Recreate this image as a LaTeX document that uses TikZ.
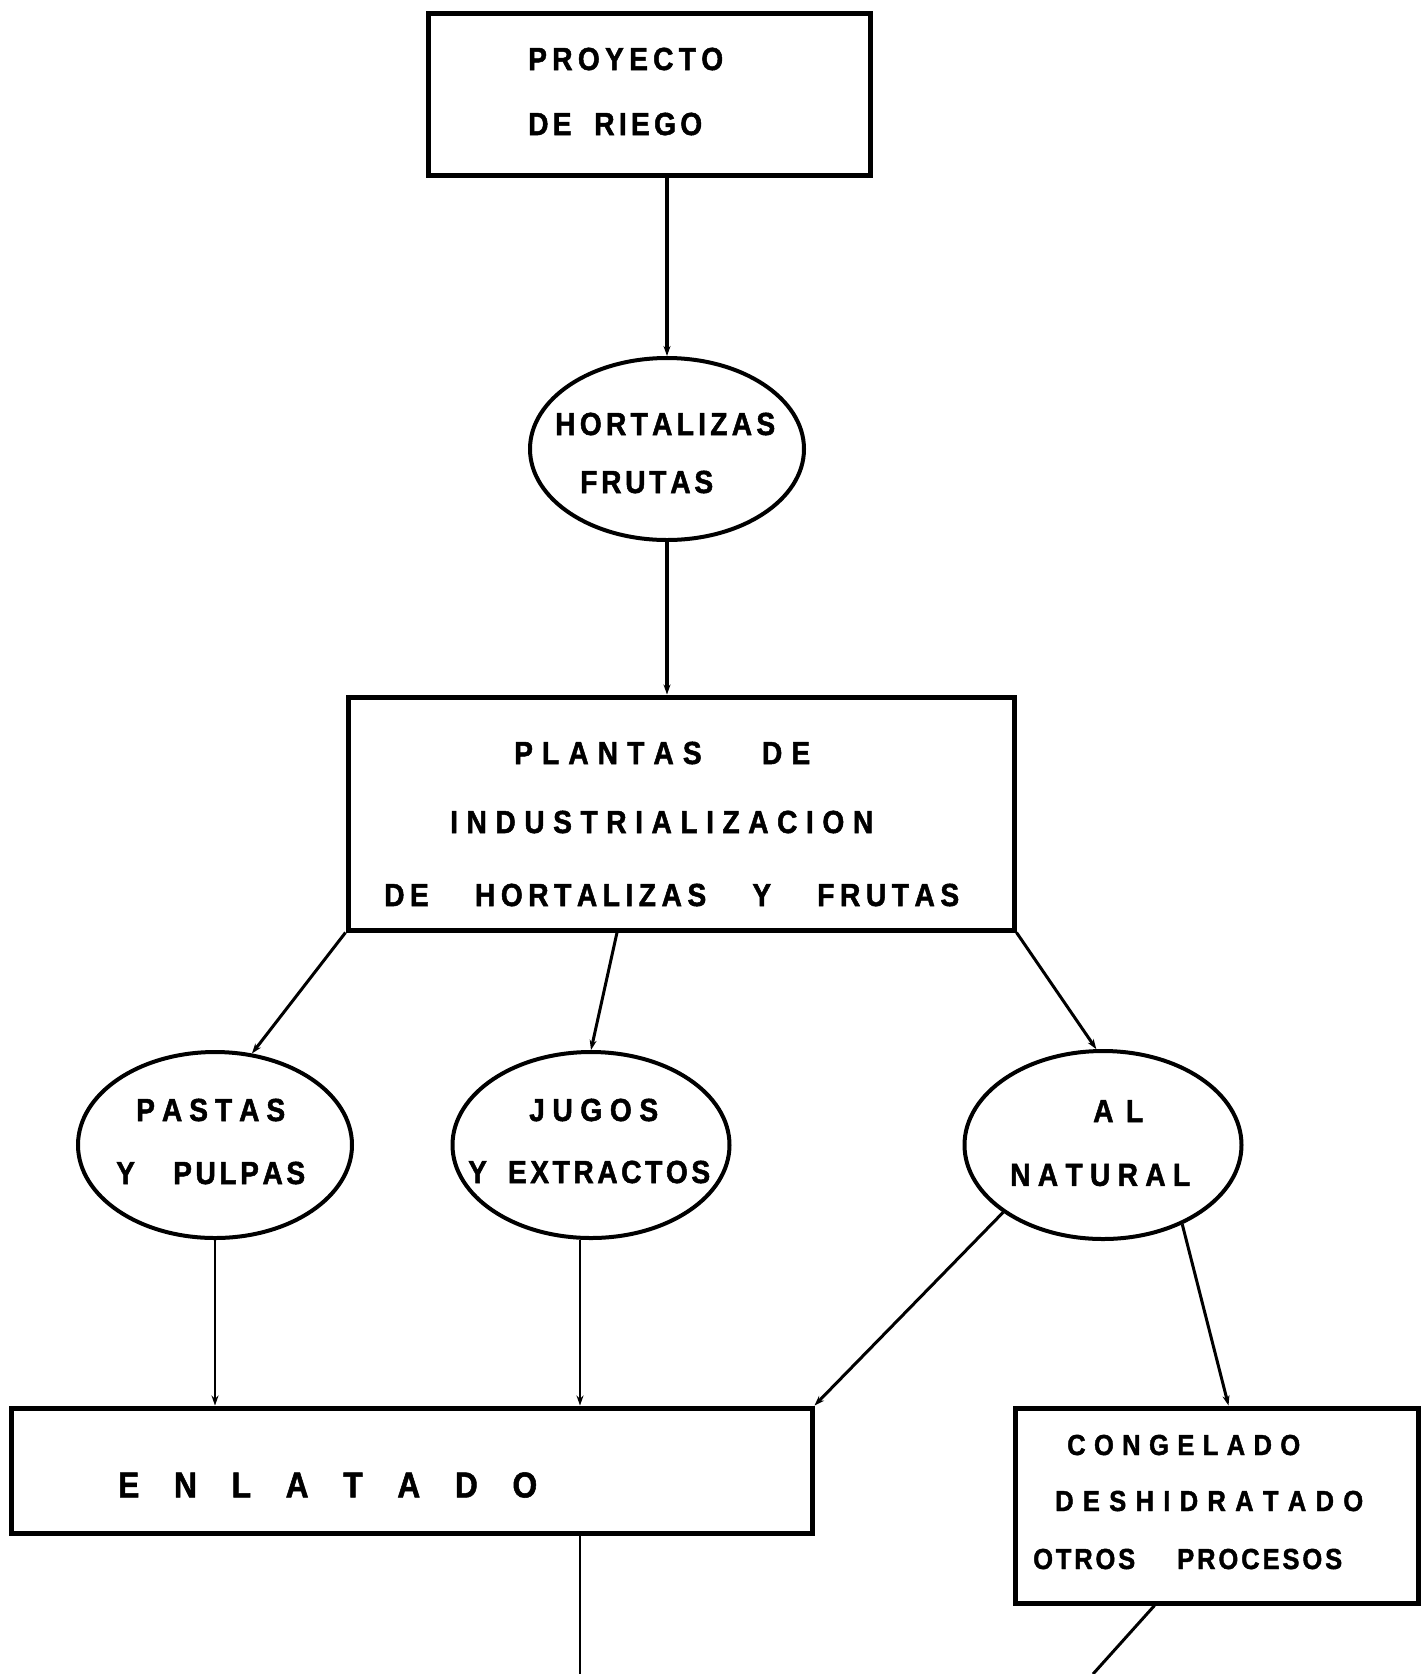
\documentclass[tikz,border=0pt]{standalone}
\usepackage{fontspec}
\usetikzlibrary{arrows.meta,shapes.geometric,calc}
\newfontfamily\lblfont[FakeStretch=0.88,FakeBold=1.5]{Liberation Sans}

% Spread a line of capitals evenly over a given width; "|" adds a word gap.
% (\relax ends each glue so that a following L is not read as "fill".)
\ExplSyntaxOn
\NewDocumentCommand \spreadline { m m }
  {
    \makebox[#1][s]
      {
        \tl_map_inline:nn {#2}
          {
            \str_if_eq:nnTF {##1} {|}
              { \hskip 12pt plus 1.5fil \relax }
              { ##1 \hskip 0pt plus 1fil \relax }
          }
        \unskip
      }
  }
\ExplSyntaxOff

\tikzset{
  box/.style={draw, line width=5pt, rectangle, inner sep=0pt},
  oval/.style={draw, line width=4pt, ellipse, inner sep=0pt},
  lbl/.style={anchor=west, inner sep=0pt,
    font=\lblfont\bfseries\fontsize{32}{36}\selectfont},
  lblsmall/.style={lbl, font=\lblfont\bfseries\fontsize{29}{33}\selectfont},
  lblbig/.style={lbl, font=\lblfont\bfseries\fontsize{36}{40}\selectfont},
  tip/.style={-{Stealth[length=10pt,width=7pt]}},
  heavy/.style={line width=4pt},
  medium/.style={line width=3pt},
  light/.style={line width=2.5pt},
}

\begin{document}
\begin{tikzpicture}[x=1pt,y=-1pt]
\useasboundingbox[fill=white] (0,0) rectangle (1426,1674);

% shapes
\node[box, minimum width=442pt, minimum height=162pt] (top) at (649,94) {};
\node[oval, minimum width=274pt, minimum height=182pt] (hort) at (667,449) {};
\node[box, minimum width=666pt, minimum height=233pt] (pl) at (681,813.5) {};
\node[oval, minimum width=274pt, minimum height=186pt] (pastas) at (215,1145) {};
\node[oval, minimum width=277pt, minimum height=186pt] (jugos) at (591,1145) {};
\node[oval, minimum width=277pt, minimum height=188pt] (nat) at (1103,1145) {};
\node[box, minimum width=801pt, minimum height=125pt] (enl) at (411.5,1470.5) {};
\node[box, minimum width=403pt, minimum height=195pt] (cong) at (1216.5,1505.5) {};

% labels
\node[lbl] (t1) at (528,59) {\spreadline{195pt}{PROYECTO}};
\node[lbl] (t2) at (528,124) {\spreadline{174pt}{DE|RIEGO}};
\node[lbl] (h1) at (555,424) {\spreadline{220pt}{HORTALIZAS}};
\node[lbl] (h2) at (580,482) {\spreadline{133pt}{FRUTAS}};
\node[lbl] (p1) at (514,753) {\spreadline{296pt}{PLANTAS||DE}};
\node[lbl] (p2) at (450,822) {\spreadline{423pt}{INDUSTRIALIZACION}};
\node[lbl] (p3) at (384,895) {\spreadline{575pt}{DE||HORTALIZAS||Y||FRUTAS}};
\node[lbl] (a1) at (136,1110) {\spreadline{149pt}{PASTAS}};
\node[lbl] (a2) at (116,1173) {\spreadline{189pt}{Y||PULPAS}};
\node[lbl] (j1) at (529,1110) {\spreadline{129pt}{JUGOS}};
\node[lbl] (j2) at (468,1172) {\spreadline{242pt}{Y|EXTRACTOS}};
\node[lbl] (n1) at (1093,1111) {\spreadline{50pt}{AL}};
\node[lbl] (n2) at (1010,1175) {\spreadline{180pt}{NATURAL}};
\node[lblbig] (e1) at (118,1485) {\spreadline{419pt}{ENLATADO}};
\node[lblsmall] (c1) at (1067,1445) {\spreadline{233pt}{CONGELADO}};
\node[lblsmall] (c2) at (1055,1501) {\spreadline{308pt}{DESHIDRATADO}};
\node[lblsmall] (c3) at (1033,1559) {\spreadline{102pt}{OTROS}};
\node[lblsmall] (c4) at (1177,1559) {\spreadline{165pt}{PROCESOS}};

% loose ends running off the sheet
\coordinate (endA) at (580,1674);
\coordinate (endB) at (1093,1674);

% connectors
\draw[heavy, tip] (hort.north |- top.south) -- (hort.north);
\draw[heavy, tip] (hort.south) -- (hort.south |- pl.north);
\draw[medium, tip] (pl.south west) -- (pastas.68);
\draw[medium, tip] ($(pl.south)+(-64,0)$) -- (jugos.90);
\draw[medium, tip] (pl.south east) -- (nat.94);
\draw[light, tip] (pastas.south) -- (pastas.south |- enl.north);
\draw[light, tip] (jugos.south -| endA) -- (endA |- enl.north);
\draw[medium, tip] (nat.214) -- (enl.north east);
\draw[medium, tip] (nat.315) -- ($(cong.north)+(12,0)$);
\draw[light] (enl.south -| endA) -- (endA);
\draw[medium] ($(cong.south)+(-62,0)$) -- (endB);
\end{tikzpicture}
\end{document}
